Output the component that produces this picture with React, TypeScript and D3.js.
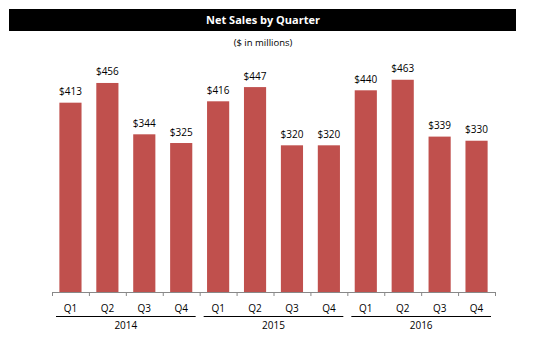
import React from "react";
import * as d3 from "d3";

const years = ["2014", "2015", "2016"];
const quarters = ["Q1", "Q2", "Q3", "Q4"];
const sales = [413, 456, 344, 325, 416, 447, 320, 320, 440, 463, 339, 330];

export default function App() {
  const W = 547, H = 338;
  const left = 52, right = 495, base = 292;
  const keys = sales.map((_, i) => String(i));
  const x = d3.scaleBand<string>().domain(keys).range([left, right]).paddingInner(0.4).paddingOuter(0.2);
  const y = d3.scaleLinear().domain([0, 500]).range([base, base - 229.2]);
  const step = (right - left) / sales.length;
  const font = "'Open Sans', 'DejaVu Sans', sans-serif";
  return (
    <svg width={W} height={H} style={{ position: "absolute", left: 0, top: 0 }}>
      <rect x={0} y={0} width={W} height={H} fill="#fff" />
      <rect x={9} y={9} width={507} height={22} fill="#000" />
      <text x={263} y={20} dy="0.35em" textAnchor="middle" fill="#fff" fontFamily={font} fontWeight="bold" fontSize={11}>
        Net Sales by Quarter
      </text>
      <text x={263} y={43} dy="0.35em" textAnchor="middle" fill="#000" fontFamily={font} fontSize={9.5}>
        ($ in millions)
      </text>
      {sales.map((v, i) => (
        <g key={i}>
          <rect x={x(String(i))!} y={y(v)} width={x.bandwidth()} height={base - y(v)} fill="#C0504D" />
          <text x={x(String(i))! + x.bandwidth() / 2} y={y(v) - 11} dy="0.35em" textAnchor="middle" fontFamily={font} fontSize={10} fill="#000">
            ${v}
          </text>
          <text x={x(String(i))! + x.bandwidth() / 2} y={308} dy="0.35em" textAnchor="middle" fontFamily={font} fontSize={10} fill="#000">
            {quarters[i % 4]}
          </text>
        </g>
      ))}
      <line x1={left} x2={right} y1={base + 0.5} y2={base + 0.5} stroke="#888" />
      {d3.range(sales.length + 1).map((i) => (
        <line key={i} x1={left + i * step + 0.5} x2={left + i * step + 0.5} y1={base} y2={base + 4} stroke="#888" />
      ))}
      {years.map((yr, j) => {
        const x0 = left + j * 4 * step;
        const x1 = x0 + 4 * step;
        return (
          <g key={yr}>
            <line x1={x0 + 4} x2={x1 - 4} y1={316.5} y2={316.5} stroke="#000" />
            <text x={(x0 + x1) / 2} y={325} dy="0.35em" textAnchor="middle" fontFamily={font} fontSize={10} fill="#000">
              {yr}
            </text>
          </g>
        );
      })}
    </svg>
  );
}
